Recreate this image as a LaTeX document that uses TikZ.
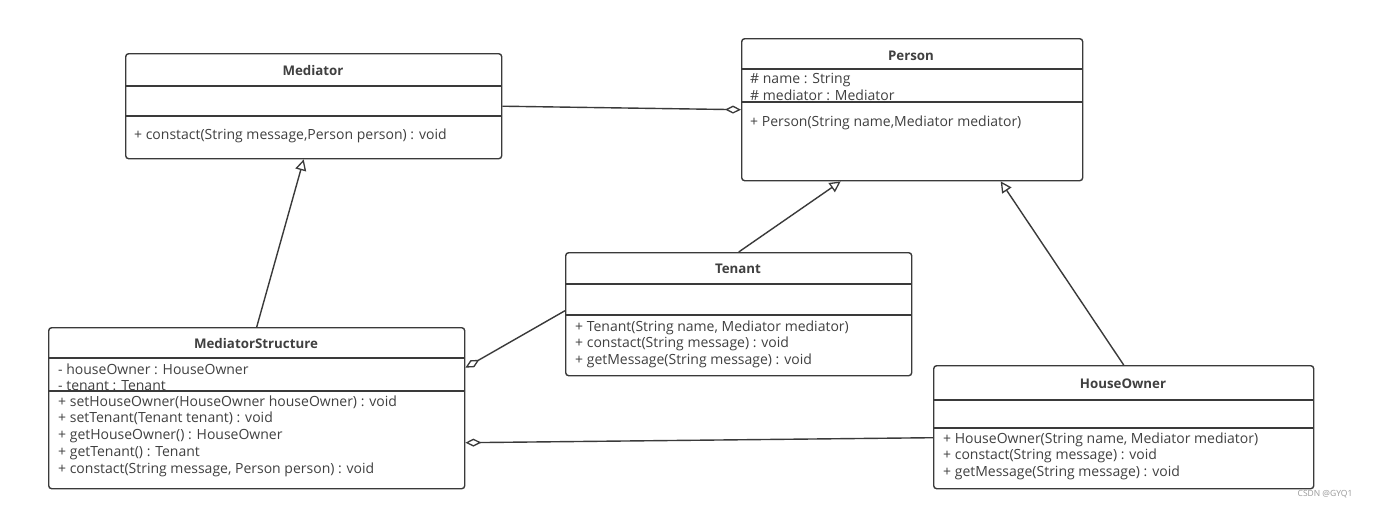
\documentclass[tikz,border=0pt]{standalone}
\usepackage{fontspec}
\setmainfont{Open Sans}
\usetikzlibrary{arrows.meta}
\definecolor{linec}{HTML}{3A3A3A}
\definecolor{txtc}{HTML}{404040}
\tikzset{
  cls/.style={draw=linec, line width=1.4pt, rounded corners=3pt, anchor=north west, inner sep=0pt, fill=white},
  ttl/.style={font=\fontsize{13.3}{15}\selectfont\bfseries, text=txtc, inner sep=0pt, anchor=base},
  mem/.style={font=\fontsize{14}{16}\selectfont, text=txtc, anchor=base west, inner sep=0pt},
  sep/.style={draw=linec, line width=1.3pt},
  conn/.style={draw=linec, line width=1.4pt},
  inh/.style={conn, -{Triangle[open, length=11pt, width=11pt, line width=1.3pt]}},
  agg/.style={conn, -{Diamond[open, length=16pt, width=8pt, line width=1.3pt]}},
}
\begin{document}
\begin{tikzpicture}[x=1pt,y=-1pt]
\useasboundingbox[fill=white] (0,0) rectangle (1375,507);

% Mediator
\node[cls, minimum width=376pt, minimum height=105pt] (med) at (125,53) {};
\draw[sep] (125,86) -- (501,86);
\draw[sep] (125,116) -- (501,116);
\node[ttl] (medt) at (313,75.5) {Mediator};
\node[mem] (medm1) at (134,139) {+ constact(String message,Person person) : void};

% Person
\node[cls, minimum width=341pt, minimum height=142pt] (per) at (741,38) {};
\draw[sep] (741,69) -- (1082,69);
\draw[sep] (741,102) -- (1082,102);
\node[ttl] (pert) at (911,60) {Person};
\node[mem] (pera1) at (750,83) {\# name : String};
\node[mem] (pera2) at (750,100) {\# mediator : Mediator};
\node[mem] (perm1) at (750,126) {+ Person(String name,Mediator mediator)};

% Tenant
\node[cls, minimum width=346pt, minimum height=123pt] (ten) at (565,252) {};
\draw[sep] (565,284) -- (911,284);
\draw[sep] (565,315) -- (911,315);
\node[ttl] (tent) at (738,273.5) {Tenant};
\node[mem] (tenm1) at (575,331) {+ Tenant(String name, Mediator mediator)};
\node[mem] (tenm2) at (575,347.5) {+ constact(String message) : void};
\node[mem] (tenm3) at (575,364) {+ getMessage(String message) : void};

% MediatorStructure
\node[cls, minimum width=416pt, minimum height=161pt] (ms) at (48,327) {};
\draw[sep] (48,358) -- (464,358);
\draw[sep] (48,391) -- (464,391);
\node[ttl] (mst) at (256,348) {MediatorStructure};
\node[mem] (msa1) at (58,374) {- houseOwner : HouseOwner};
\node[mem] (msa2) at (58,390.5) {- tenant : Tenant};
\node[mem] (msm1) at (58,406) {+ setHouseOwner(HouseOwner houseOwner) : void};
\node[mem] (msm2) at (58,422.5) {+ setTenant(Tenant tenant) : void};
\node[mem] (msm3) at (58,439.5) {+ getHouseOwner() : HouseOwner};
\node[mem] (msm4) at (58,456.5) {+ getTenant() : Tenant};
\node[mem] (msm5) at (58,473) {+ constact(String message, Person person) : void};

% HouseOwner
\node[cls, minimum width=380pt, minimum height=123pt] (ho) at (933,365) {};
\draw[sep] (933,400) -- (1313,400);
\draw[sep] (933,428) -- (1313,428);
\node[ttl] (hot) at (1123,388) {HouseOwner};
\node[mem] (hom1) at (943,443) {+ HouseOwner(String name, Mediator mediator)};
\node[mem] (hom2) at (943,459.5) {+ constact(String message) : void};
\node[mem] (hom3) at (943,476) {+ getMessage(String message) : void};

% connectors
\draw[agg] (med.east) -- (per.west);
\draw[inh] (ms.north) -- ([xshift=-10pt]med.south);
\draw[inh] (ten.north) -- ([xshift=-71.5pt]per.south);
\draw[inh] (ho.north) -- ([xshift=88.5pt]per.south);
\draw[agg] ([yshift=3.5pt]ten.west) -- ([yshift=40.5pt]ms.east);
\draw[agg] ([yshift=-10.5pt]ho.west) -- ([yshift=-34.5pt]ms.east);

\node[font=\fontsize{8.5}{9}\selectfont, text=black!40, inner sep=0pt] (wm) at (1325,494) {CSDN @GYQ1};
\end{tikzpicture}
\end{document}
